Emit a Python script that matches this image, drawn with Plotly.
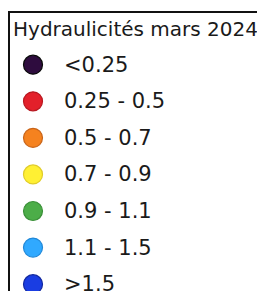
import plotly.graph_objects as go

title_text = "Hydraulicités mars 2024"
class_labels = ["<0.25", "0.25 - 0.5", "0.5 - 0.7", "0.7 - 0.9", "0.9 - 1.1", "1.1 - 1.5", ">1.5"]
class_colors = ["#2e0c3e", "#e3202a", "#f5821f", "#fff033", "#4cad48", "#30a9ff", "#1a3de2"]
class_borders = ["#0a0a0a", "#b81820", "#c96418", "#e0cc2a", "#3a8f38", "#2088d8", "#12289e"]

# the page body has an 8px margin, so the figure starts 8px in
OFF = 8
W, H = 265 - OFF, 291 - OFF
row0, row_step = 64.7 - OFF, 36.58
mark_x_px = 33 - OFF

rows = list(range(len(class_labels)))
xs = [0] * len(class_labels)

fig = go.Figure()
fig.add_trace(go.Scatter(
    x=xs, y=rows, mode="markers",
    marker=dict(size=19, color=class_colors, line=dict(color=class_borders, width=1.2)),
    hoverinfo="skip", showlegend=False,
))

for r, lab in zip(rows, class_labels):
    fig.add_annotation(x=29, y=r, text=lab, showarrow=False, xanchor="left", yanchor="middle",
                       font=dict(family="DejaVu Sans", size=21, color="#1a1a1a"))

fig.add_annotation(x=(11 - OFF) / W, y=1 - (29.5 - OFF) / H, xref="paper", yref="paper", text=title_text,
                   showarrow=False, xanchor="left", yanchor="middle",
                   font=dict(family="DejaVu Sans", size=20, color="#1a1a1a"))

fig.add_shape(type="rect", xref="paper", yref="paper",
              x0=1 / W, x1=(262.5 - OFF) / W, y0=-0.1, y1=1 - (12 - OFF) / H,
              line=dict(color="#111111", width=2), fillcolor="rgba(0,0,0,0)")

fig.update_layout(
    width=W, height=H, margin=dict(l=0, r=0, t=0, b=0),
    paper_bgcolor="white", plot_bgcolor="white",
    xaxis=dict(range=[-mark_x_px, W - mark_x_px], visible=False, fixedrange=True),
    yaxis=dict(range=[(H - row0) / row_step, -row0 / row_step], visible=False, fixedrange=True),
)

fig.write_html("out.html")
